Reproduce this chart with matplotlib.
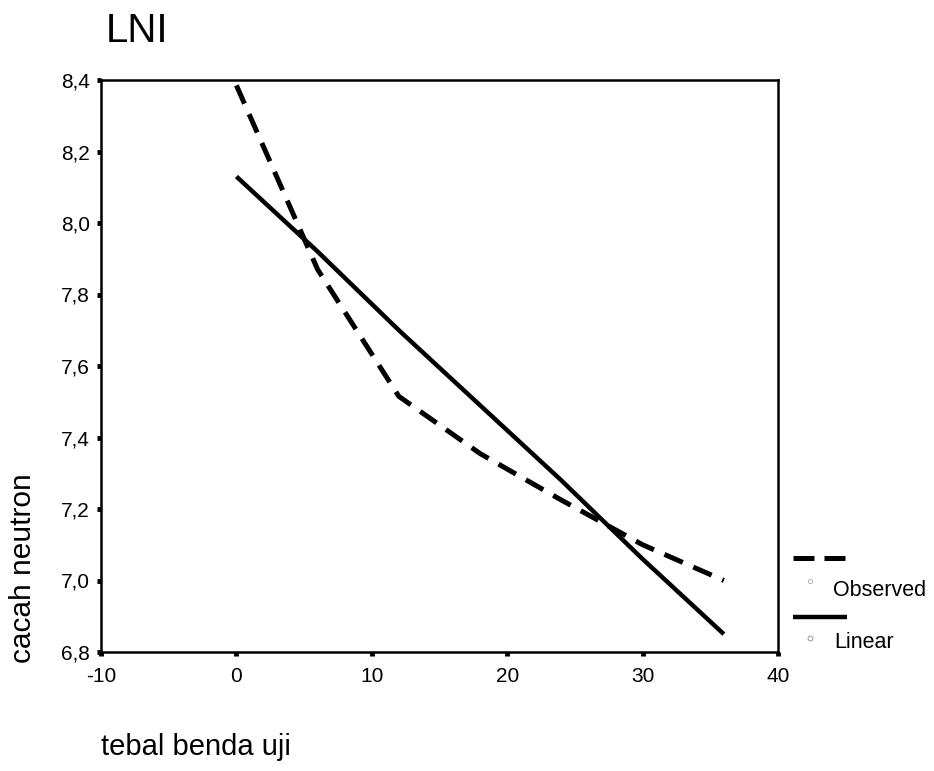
import matplotlib
matplotlib.use("Agg")
import matplotlib.pyplot as plt
from matplotlib.lines import Line2D

plt.rcParams['font.family'] = ['Liberation Sans', 'DejaVu Sans']

# data
thickness = [0, 6, 12, 18, 24, 30, 36]
observed = [8.385, 7.87, 7.515, 7.355, 7.225, 7.10, 7.00]
linear = [8.13, 7.92, 7.70, 7.49, 7.28, 7.06, 6.85]

xticks = [-10, 0, 10, 20, 30, 40]
xtick_labels = ['-10', '0', '10', '20', '30', '40']
yticks = [6.8, 7.0, 7.2, 7.4, 7.6, 7.8, 8.0, 8.2, 8.4]
ytick_labels = ['6,8', '7,0', '7,2', '7,4', '7,6', '7,8', '8,0', '8,2', '8,4']

title = 'LNI'
xlabel = 'tebal benda uji'
ylabel = 'cacah neutron'
series_names = ['Observed', 'Linear']

W, H = 934, 771
fig = plt.figure(figsize=(W / 100, H / 100), dpi=100)
ax = fig.add_axes([101 / W, 1 - 652 / H, (778 - 101) / W, (652 - 80) / H])

dash = (4.0, 2.3)
ax.plot(thickness, observed, color='black', lw=3.6, linestyle=(0, dash),
        solid_capstyle='butt', dash_capstyle='butt')
ax.plot(thickness, linear, color='black', lw=3.2, solid_capstyle='butt')

ax.set_xlim(-10, 40)
ax.set_ylim(6.8, 8.4)
ax.set_xticks(xticks)
ax.set_xticklabels(xtick_labels)
ax.set_yticks(yticks)
ax.set_yticklabels(ytick_labels)
ax.tick_params(axis='both', direction='out', length=3, width=3.5, labelsize=15,
               color='black')
ax.tick_params(axis='x', pad=8)
ax.tick_params(axis='y', pad=5)
for sp in ax.spines.values():
    sp.set_linewidth(1.8)
    sp.set_color('black')

fig.text(106 / W, 1 - 42 / H, title, fontsize=29, ha='left', va='baseline')
fig.text(101 / W, 1 - 755 / H, xlabel, fontsize=21, ha='left', va='baseline')
fig.text(23 / W, 1 - 568 / H, ylabel, fontsize=21.5, rotation=90,
         ha='center', va='center')

# legend drawn at the right of the plot
fig.add_artist(Line2D([793 / W, 845 / W], [1 - 558 / H, 1 - 558 / H],
                      color='black', lw=3.6, linestyle=(0, (4.2, 2.0)),
                      dash_capstyle='butt', transform=fig.transFigure))
fig.add_artist(Line2D([810 / W], [1 - 581 / H], marker='o', markersize=3,
                      markerfacecolor='none', markeredgecolor='#aaaaaa',
                      markeredgewidth=0.6, linestyle='none',
                      transform=fig.transFigure))
fig.text(833 / W, 1 - 590 / H, series_names[0], fontsize=15.5,
         ha='left', va='center')
fig.add_artist(Line2D([793 / W, 847 / W], [1 - 617 / H, 1 - 617 / H],
                      color='black', lw=3.2, solid_capstyle='butt',
                      transform=fig.transFigure))
fig.add_artist(Line2D([810 / W], [1 - 638 / H], marker='o', markersize=3.5,
                      markerfacecolor='none', markeredgecolor='#999999',
                      markeredgewidth=0.7, linestyle='none',
                      transform=fig.transFigure))
fig.text(834 / W, 1 - 643 / H, series_names[1], fontsize=15.5,
         ha='left', va='center')

fig.savefig('out.png', dpi=100, facecolor='white')
